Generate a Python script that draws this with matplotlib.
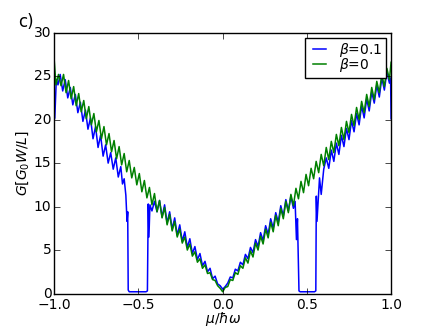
import matplotlib
matplotlib.use("Agg")
import matplotlib.pyplot as plt
import numpy as np

# chemical potential grid (|mu|) shared by the green curve halves
mu_half = [0.000, 0.015, 0.030, 0.045, 0.060, 0.075, 0.090, 0.105, 0.120, 0.135,
           0.150, 0.165, 0.180, 0.195, 0.210, 0.225, 0.240, 0.255, 0.270, 0.285,
           0.300, 0.315, 0.330, 0.345, 0.360, 0.375, 0.390, 0.405, 0.420, 0.435,
           0.450, 0.465, 0.480, 0.495, 0.510, 0.525, 0.540, 0.555, 0.570, 0.585,
           0.600, 0.615, 0.630, 0.645, 0.660, 0.675, 0.690, 0.705, 0.720, 0.735,
           0.750, 0.765, 0.780, 0.795, 0.810, 0.825, 0.840, 0.855, 0.870, 0.885,
           0.900, 0.915, 0.930, 0.945, 0.960, 0.975, 0.990, 1.000]

# beta = 0 (green), mu > 0
green_right = [0.2, 0.7, 0.8, 1.6, 1.5, 2.4, 2.2, 3.2, 2.9, 4.1,
               3.5, 4.9, 4.2, 5.8, 5.0, 6.6, 5.7, 7.4, 6.4, 8.2,
               7.1, 9.0, 7.8, 9.8, 8.6, 10.6, 9.3, 11.4, 10.1, 12.1,
               10.9, 12.9, 11.6, 13.7, 12.4, 14.4, 13.2, 15.2, 13.9, 16.0,
               14.7, 16.8, 15.4, 17.5, 16.2, 18.3, 17.0, 19.1, 17.7, 19.8,
               18.5, 20.6, 19.3, 21.4, 20.0, 22.1, 20.8, 22.9, 21.5, 23.7,
               22.3, 24.4, 23.1, 25.2, 23.8, 25.9, 24.6, 26.6]
# beta = 0 (green), mu < 0 (ordered by |mu|)
green_left = [0.2, 0.6, 0.9, 1.5, 1.6, 2.4, 2.3, 3.3, 2.9, 4.0,
              3.6, 4.8, 4.3, 5.7, 5.0, 6.5, 5.8, 7.4, 6.5, 8.3,
              7.2, 9.1, 7.9, 9.9, 8.7, 10.7, 9.4, 11.5, 10.2, 12.2,
              11.0, 13.0, 11.7, 13.8, 12.5, 14.5, 13.3, 15.3, 14.0, 16.1,
              14.8, 16.9, 15.5, 17.6, 16.3, 18.4, 17.1, 19.2, 17.8, 19.9,
              18.6, 20.7, 19.4, 21.5, 20.1, 22.2, 20.9, 23.0, 21.6, 23.8,
              22.4, 24.5, 23.1, 25.2, 23.9, 25.2, 24.0, 26.7]

# beta = 0.1 (blue), mu > 0
mu_blue_right = [0.000, 0.015, 0.030, 0.045, 0.060, 0.075, 0.090, 0.105, 0.120, 0.135,
                 0.150, 0.165, 0.180, 0.195, 0.210, 0.225, 0.240, 0.255, 0.270, 0.285,
                 0.300, 0.315, 0.330, 0.345, 0.360, 0.375, 0.390, 0.405, 0.420, 0.430,
                 0.438, 0.444, 0.453, 0.460, 0.545, 0.553, 0.556, 0.560, 0.575, 0.585,
                 0.600, 0.615, 0.630, 0.645, 0.660, 0.675, 0.690, 0.705, 0.720, 0.735,
                 0.750, 0.765, 0.780, 0.795, 0.810, 0.825, 0.840, 0.855, 0.870, 0.885,
                 0.900, 0.915, 0.930, 0.945, 0.960, 0.975, 0.990, 0.997, 1.000]
blue_right = [0.5, 0.8, 1.2, 1.9, 1.8, 2.8, 2.6, 3.6, 3.3, 4.5,
              4.0, 5.3, 4.7, 6.2, 5.4, 7.0, 6.1, 7.8, 6.8, 8.6,
              7.5, 9.3, 8.2, 10.1, 8.9, 10.8, 9.5, 11.2, 9.8, 10.6,
              6.2, 8.6, 0.3, 0.2, 0.2, 0.3, 11.2, 8.3, 13.3, 11.4,
              14.3, 15.6, 14.4, 16.5, 15.2, 17.3, 16.0, 18.2, 16.9, 19.0,
              17.7, 19.9, 18.6, 20.7, 19.4, 21.6, 20.2, 22.4, 21.0, 23.2,
              21.9, 24.0, 22.6, 24.8, 23.4, 25.5, 24.2, 24.8, 20.1]

# beta = 0.1 (blue), mu < 0
mu_blue_left = [0.000, -0.015, -0.030, -0.045, -0.060, -0.075, -0.090, -0.105, -0.120, -0.135,
                -0.150, -0.165, -0.180, -0.195, -0.210, -0.225, -0.240, -0.255, -0.270, -0.285,
                -0.300, -0.315, -0.330, -0.345, -0.360, -0.375, -0.390, -0.405, -0.420, -0.432,
                -0.438, -0.442, -0.447, -0.455, -0.555, -0.561, -0.564, -0.568, -0.575, -0.585,
                -0.595, -0.605, -0.620, -0.635, -0.650, -0.665, -0.680, -0.695, -0.710, -0.725,
                -0.740, -0.755, -0.770, -0.785, -0.800, -0.815, -0.830, -0.845, -0.860, -0.875,
                -0.890, -0.905, -0.920, -0.935, -0.950, -0.965, -0.978, -0.988, -0.997, -1.000]
blue_left = [0.5, 0.9, 1.1, 2.0, 1.7, 2.9, 2.5, 3.7, 3.2, 4.6,
             3.9, 5.4, 4.6, 6.3, 5.3, 7.1, 6.0, 7.9, 6.7, 8.7,
             7.4, 9.4, 8.1, 10.2, 8.8, 10.7, 9.4, 10.6, 9.5, 10.2,
             6.5, 10.3, 0.3, 0.2, 0.2, 0.4, 9.4, 8.3, 11.3, 13.2,
             12.6, 14.6, 13.4, 15.6, 14.3, 16.2, 15.0, 17.1, 15.8, 18.2,
             16.8, 19.2, 17.8, 20.2, 18.9, 21.1, 19.8, 22.0, 20.8, 22.9,
             21.7, 23.7, 22.5, 24.6, 23.3, 25.2, 24.0, 24.6, 20.2, 20.0]

labels = [r"$\beta$=0.1", r"$\beta$=0"]
xticks = [-1.0, -0.5, 0.0, 0.5, 1.0]
yticks = [0, 5, 10, 15, 20, 25, 30]

plt.style.use("classic")
plt.rcParams["font.family"] = ["DejaVu Sans"]
plt.rcParams["mathtext.fontset"] = "dejavusans"
fig = plt.figure(figsize=(4.36, 3.27), dpi=100, facecolor="white")
ax = fig.add_axes([0.1245, 0.1024, 0.7725, 0.7976])
ax.set_facecolor("white")

mu_h = np.array(mu_half)
green_x = np.concatenate([-mu_h[::-1], mu_h[1:]])
green_y = np.concatenate([np.array(green_left)[::-1], np.array(green_right)[1:]])
blue_x = np.concatenate([np.array(mu_blue_left)[::-1], np.array(mu_blue_right)[1:]])
blue_y = np.concatenate([np.array(blue_left)[::-1], np.array(blue_right)[1:]])

ax.plot(blue_x, blue_y, color="#0000ff", lw=1.1, label=labels[0])
ax.plot(green_x, green_y, color="#008000", lw=1.1, label=labels[1])

ax.set_xlim(-1, 1)
ax.set_ylim(0, 30)
ax.set_xticks(xticks)
ax.set_yticks(yticks)
ax.tick_params(labelsize=10, direction="in", top=True, right=True)
ax.tick_params(axis="x", pad=3)
ax.tick_params(axis="y", pad=2)
ax.set_xlabel(r"$\mu/\hbar\omega$", fontsize=10, labelpad=-1)
ax.set_ylabel(r"$G[G_0W/L]$", fontsize=10, labelpad=2)

leg = ax.legend(loc="upper right", fontsize=10, handlelength=1.5,
                frameon=True, fancybox=False, shadow=False, numpoints=2,
                labelspacing=-0.2, borderpad=0.25, handletextpad=0.7,
                borderaxespad=0.35)
leg.get_frame().set_edgecolor("black")

fig.text(0.041, 0.917, "c)", fontsize=12, va="baseline")

fig.savefig("out.png", dpi=100, facecolor="white")
